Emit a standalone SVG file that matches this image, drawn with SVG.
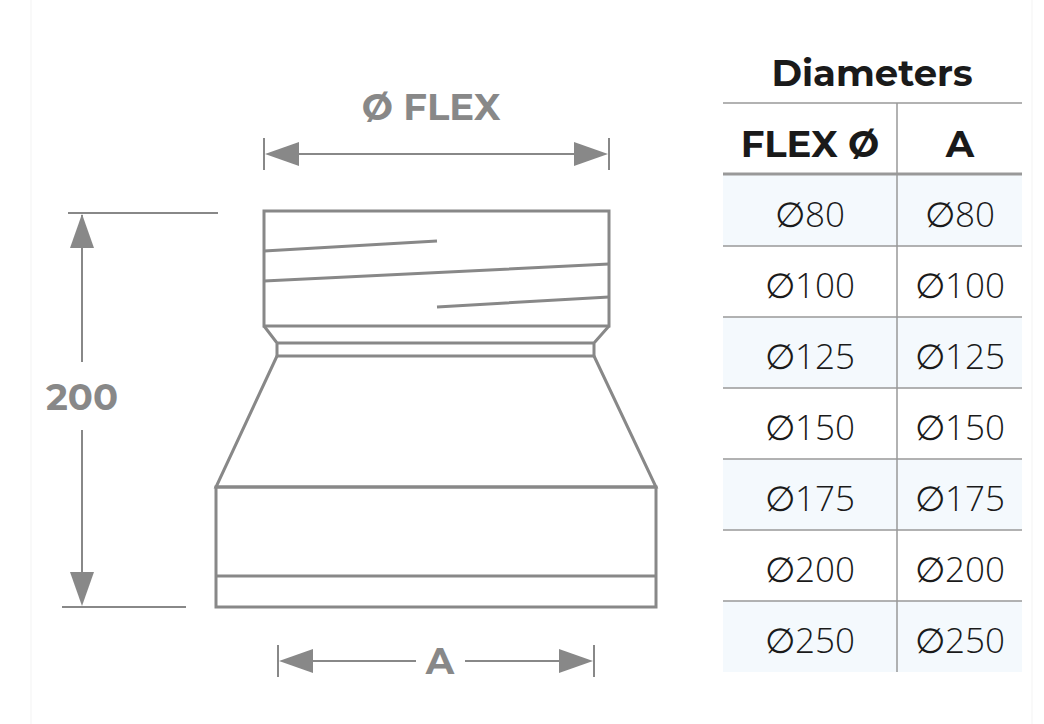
<svg xmlns="http://www.w3.org/2000/svg" width="1044" height="724" viewBox="0 0 1044 724">
<defs>
<style>
.s{stroke:#888;stroke-width:3;fill:none}
.d{stroke:#888;stroke-width:2;fill:none}
.g{stroke:#999;stroke-width:1.5}
.dt{font-family:"Montserrat","Open Sans",sans-serif;font-weight:700;fill:#888;text-anchor:middle}
.h{font-family:"Montserrat","Open Sans",sans-serif;font-weight:700;fill:#1a1a1a;text-anchor:middle;font-size:37px}
.v{font-family:"Open Sans",sans-serif;font-weight:300;fill:#1a1a1a;text-anchor:middle;font-size:35px}
</style>
</defs>
<rect width="1044" height="724" fill="#fff"/>
<line x1="31" y1="0" x2="31" y2="724" stroke="#f3f3f3"/>
<line x1="1032" y1="0" x2="1032" y2="724" stroke="#f3f3f3"/>
<g id="reducer">
<rect x="264" y="211" width="345" height="115" class="s"/>
<path class="s" d="M264,251L437,241M264,281L609,264M437,307L609,297"/>
<path class="s" d="M264,326L277,343L594,343L609,326M277,343V356H594V343"/>
<path class="s" d="M277,356L216,487H656L594,356"/>
<rect x="216" y="487" width="440" height="120" class="s"/>
<line x1="216" y1="576" x2="656" y2="576" class="s"/>
</g>
<g id="dimensions">
<line x1="68" y1="213" x2="218" y2="213" class="d"/>
<line x1="62" y1="607" x2="186" y2="607" class="d"/>
<path d="M82,215V362" class="d"/>
<polygon points="82,214 70,248 94,248" fill="#888"/>
<polygon points="82,606 70,572 94,572" fill="#888"/>
<line x1="82" y1="430" x2="82" y2="574" class="d"/>
<text x="82" y="410" class="dt" font-size="37">200</text>
<line x1="264" y1="138" x2="264" y2="170" class="d"/>
<line x1="609" y1="138" x2="609" y2="170" class="d"/>
<line x1="296" y1="154" x2="577" y2="154" class="d"/>
<polygon points="265,154 299,142 299,166" fill="#888"/>
<polygon points="608,154 574,142 574,166" fill="#888"/>
<text x="431" y="120" class="dt" font-size="37">Ø FLEX</text>
<line x1="278" y1="645" x2="278" y2="677" class="d"/>
<line x1="594" y1="645" x2="594" y2="677" class="d"/>
<line x1="310" y1="661" x2="416" y2="661" class="d"/>
<line x1="465" y1="661" x2="562" y2="661" class="d"/>
<polygon points="279,661 313,649 313,673" fill="#888"/>
<polygon points="593,661 559,649 559,673" fill="#888"/>
<text x="440" y="674" class="dt" font-size="37">A</text>
</g>
<g id="table">
<text x="872" y="86" class="h">Diameters</text>
<rect x="723" y="175" width="299" height="71" fill="#f4f9fd"/>
<rect x="723" y="317" width="299" height="71" fill="#f4f9fd"/>
<rect x="723" y="459" width="299" height="71" fill="#f4f9fd"/>
<rect x="723" y="601" width="299" height="71" fill="#f4f9fd"/>
<line x1="723" y1="103" x2="1022" y2="103" class="g"/>
<line x1="723" y1="174" x2="1022" y2="174" stroke="#999" stroke-width="3"/>
<path class="g" d="M723,246H1022M723,317H1022M723,388H1022M723,459H1022M723,530H1022M723,601H1022"/>
<line x1="897" y1="103" x2="897" y2="672" class="g"/>
<text x="810" y="157" class="h">FLEX Ø</text>
<text x="960" y="157" class="h">A</text>
<text x="810" y="227" class="v">∅80</text><text x="960" y="227" class="v">∅80</text>
<text x="810" y="298" class="v">∅100</text><text x="960" y="298" class="v">∅100</text>
<text x="810" y="369" class="v">∅125</text><text x="960" y="369" class="v">∅125</text>
<text x="810" y="440" class="v">∅150</text><text x="960" y="440" class="v">∅150</text>
<text x="810" y="511" class="v">∅175</text><text x="960" y="511" class="v">∅175</text>
<text x="810" y="582" class="v">∅200</text><text x="960" y="582" class="v">∅200</text>
<text x="810" y="653" class="v">∅250</text><text x="960" y="653" class="v">∅250</text>
</g>
</svg>
